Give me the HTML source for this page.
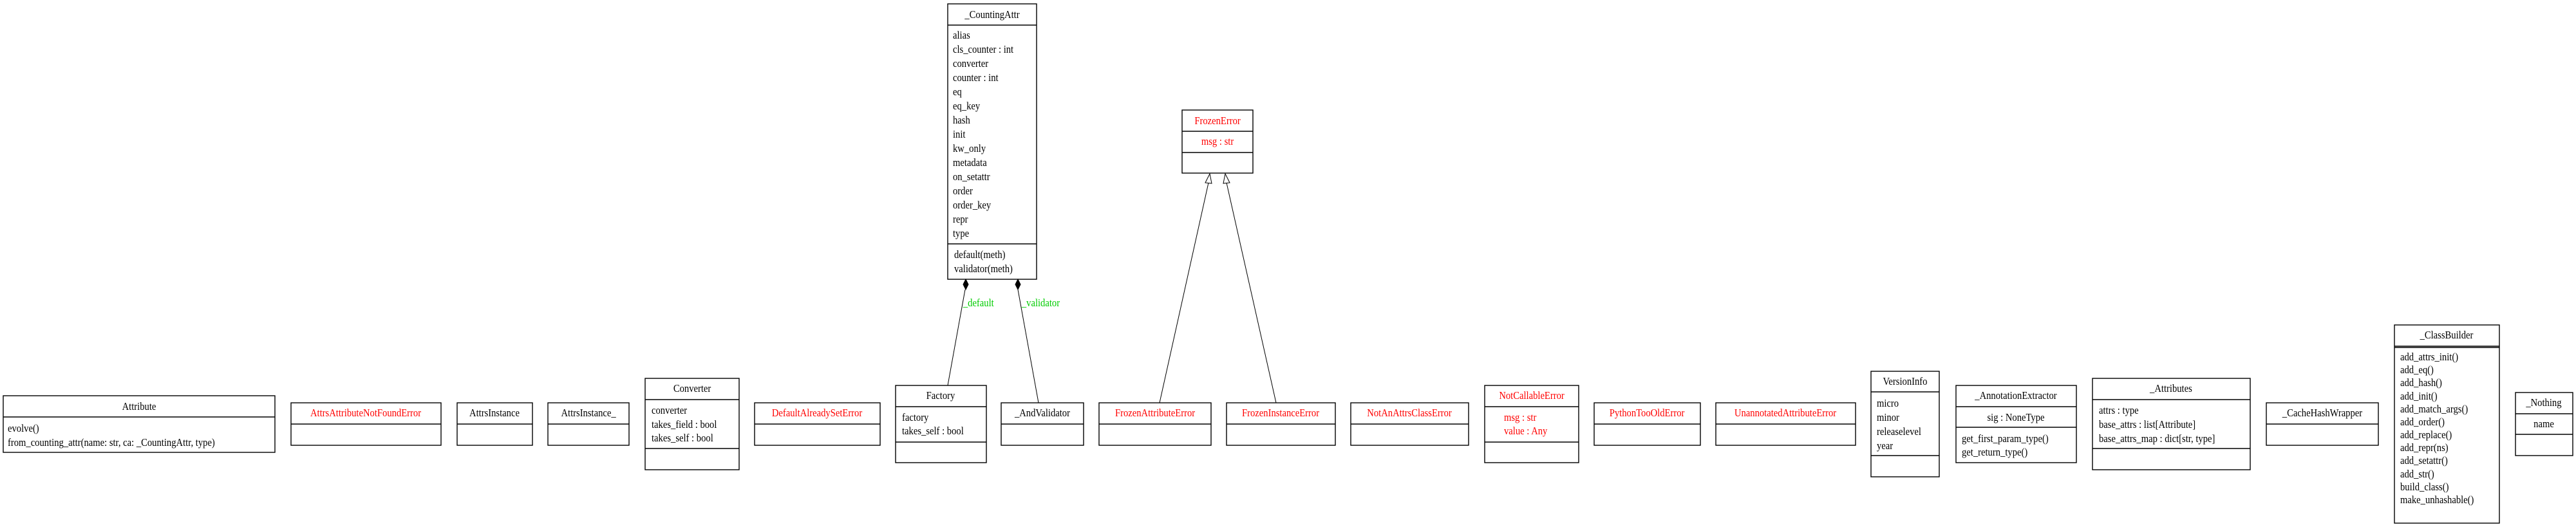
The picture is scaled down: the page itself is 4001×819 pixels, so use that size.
<!DOCTYPE html>
<html><head><meta charset="utf-8"><style>
html,body{margin:0;padding:0;background:#fff;}
svg{display:block;}
text{font-family:"Liberation Serif",serif;font-size:17px;fill:#000;transform-box:fill-box;transform-origin:0 0;transform:scaleX(0.86);}
.r{fill:#f00;}
.g{fill:#0c0;}
.c{text-anchor:middle;transform-origin:50% 0;}
rect{fill:none;stroke:#000;stroke-width:1.4;}
line.d{stroke:#000;stroke-width:1.4;}
line.e{stroke:#000;stroke-width:1;}
</style></head><body>
<svg width="4001" height="819" viewBox="0 0 4001 819" xmlns="http://www.w3.org/2000/svg">
<rect x="5" y="615" width="422" height="88"/><line class="d" x1="5" y1="648" x2="427" y2="648"/>
<text class="c" x="216" y="637">Attribute</text>
<text x="12" y="671">evolve()</text>
<text x="12" y="693">from_counting_attr(name: str, ca: _CountingAttr, type)</text>
<rect x="452" y="626" width="233" height="66"/><line class="d" x1="452" y1="659" x2="685" y2="659"/>
<text class="c r" x="568" y="647">AttrsAttributeNotFoundError</text>
<rect x="710" y="626" width="117" height="66"/><line class="d" x1="710" y1="659" x2="827" y2="659"/>
<text class="c" x="768" y="647">AttrsInstance</text>
<rect x="851" y="626" width="126" height="66"/><line class="d" x1="851" y1="659" x2="977" y2="659"/>
<text class="c" x="914" y="647">AttrsInstance_</text>
<rect x="1002" y="588" width="146" height="142"/><line class="d" x1="1002" y1="621" x2="1148" y2="621"/><line class="d" x1="1002" y1="697" x2="1148" y2="697"/>
<text class="c" x="1075" y="609">Converter</text>
<text x="1012" y="643">converter</text>
<text x="1012" y="665">takes_field : bool</text>
<text x="1012" y="686">takes_self : bool</text>
<rect x="1172" y="626" width="195" height="66"/><line class="d" x1="1172" y1="659" x2="1367" y2="659"/>
<text class="c r" x="1269" y="647">DefaultAlreadySetError</text>
<rect x="1391" y="599" width="141" height="120"/><line class="d" x1="1391" y1="632" x2="1532" y2="632"/><line class="d" x1="1391" y1="687" x2="1532" y2="687"/>
<text class="c" x="1461" y="620">Factory</text>
<text x="1401" y="654">factory</text>
<text x="1401" y="675">takes_self : bool</text>
<rect x="1555" y="626" width="128" height="66"/><line class="d" x1="1555" y1="659" x2="1683" y2="659"/>
<text class="c" x="1619" y="647">_AndValidator</text>
<rect x="1707" y="626" width="174" height="66"/><line class="d" x1="1707" y1="659" x2="1881" y2="659"/>
<text class="c r" x="1794" y="647">FrozenAttributeError</text>
<rect x="1905" y="626" width="169" height="66"/><line class="d" x1="1905" y1="659" x2="2074" y2="659"/>
<text class="c r" x="1989" y="647">FrozenInstanceError</text>
<rect x="2098" y="626" width="183" height="66"/><line class="d" x1="2098" y1="659" x2="2281" y2="659"/>
<text class="c r" x="2189" y="647">NotAnAttrsClassError</text>
<rect x="2306" y="599" width="146" height="120"/><line class="d" x1="2306" y1="632" x2="2452" y2="632"/><line class="d" x1="2306" y1="687" x2="2452" y2="687"/>
<text class="c r" x="2379" y="620">NotCallableError</text>
<text class="r" x="2336" y="654">msg : str</text>
<text class="r" x="2336" y="675">value : Any</text>
<rect x="2476" y="626" width="165" height="66"/><line class="d" x1="2476" y1="659" x2="2641" y2="659"/>
<text class="c r" x="2558" y="647">PythonTooOldError</text>
<rect x="2665" y="626" width="217" height="66"/><line class="d" x1="2665" y1="659" x2="2882" y2="659"/>
<text class="c r" x="2773" y="647">UnannotatedAttributeError</text>
<rect x="2906" y="577" width="106" height="164"/><line class="d" x1="2906" y1="609" x2="3012" y2="609"/><line class="d" x1="2906" y1="708" x2="3012" y2="708"/>
<text class="c" x="2959" y="598">VersionInfo</text>
<text x="2915" y="632">micro</text>
<text x="2915" y="654">minor</text>
<text x="2915" y="676">releaselevel</text>
<text x="2915" y="698">year</text>
<rect x="3038" y="599" width="187" height="120"/><line class="d" x1="3038" y1="632" x2="3225" y2="632"/><line class="d" x1="3038" y1="664" x2="3225" y2="664"/>
<text class="c" x="3131" y="620">_AnnotationExtractor</text>
<text class="c" x="3131" y="654">sig : NoneType</text>
<text x="3047" y="687">get_first_param_type()</text>
<text x="3047" y="708">get_return_type()</text>
<rect x="3250" y="588" width="245" height="142"/><line class="d" x1="3250" y1="621" x2="3495" y2="621"/><line class="d" x1="3250" y1="697" x2="3495" y2="697"/>
<text class="c" x="3372" y="609">_Attributes</text>
<text x="3260" y="643">attrs : type</text>
<text x="3260" y="665">base_attrs : list[Attribute]</text>
<text x="3260" y="687">base_attrs_map : dict[str, type]</text>
<rect x="3520" y="626" width="174" height="66"/><line class="d" x1="3520" y1="659" x2="3694" y2="659"/>
<text class="c" x="3607" y="647">_CacheHashWrapper</text>
<rect x="3719" y="505" width="163" height="308"/><line class="d" x1="3719" y1="538" x2="3882" y2="538"/><line class="d" x1="3719" y1="540" x2="3882" y2="540"/>
<text class="c" x="3800" y="526">_ClassBuilder</text>
<text x="3728" y="560">add_attrs_init()</text>
<text x="3728" y="580">add_eq()</text>
<text x="3728" y="600">add_hash()</text>
<text x="3728" y="621">add_init()</text>
<text x="3728" y="641">add_match_args()</text>
<text x="3728" y="661">add_order()</text>
<text x="3728" y="681">add_replace()</text>
<text x="3728" y="701">add_repr(ns)</text>
<text x="3728" y="721">add_setattr()</text>
<text x="3728" y="742">add_str()</text>
<text x="3728" y="762">build_class()</text>
<text x="3728" y="782">make_unhashable()</text>
<rect x="3907" y="610" width="89" height="98"/><line class="d" x1="3907" y1="643" x2="3996" y2="643"/><line class="d" x1="3907" y1="675" x2="3996" y2="675"/>
<text class="c" x="3951" y="631">_Nothing</text>
<text class="c" x="3951" y="664">name</text>
<rect x="1472" y="6" width="138" height="428"/><line class="d" x1="1472" y1="39" x2="1610" y2="39"/><line class="d" x1="1472" y1="379" x2="1610" y2="379"/>
<text class="c" x="1541" y="28">_CountingAttr</text>
<text x="1480" y="60">alias</text>
<text x="1480" y="82">cls_counter : int</text>
<text x="1480" y="104">converter</text>
<text x="1480" y="126">counter : int</text>
<text x="1480" y="148">eq</text>
<text x="1480" y="170">eq_key</text>
<text x="1480" y="192">hash</text>
<text x="1480" y="214">init</text>
<text x="1480" y="236">kw_only</text>
<text x="1480" y="258">metadata</text>
<text x="1480" y="280">on_setattr</text>
<text x="1480" y="302">order</text>
<text x="1480" y="324">order_key</text>
<text x="1480" y="346">repr</text>
<text x="1480" y="368">type</text>
<text x="1482" y="401">default(meth)</text>
<text x="1482" y="423">validator(meth)</text>
<rect x="1836" y="171" width="110" height="98"/><line class="d" x1="1836" y1="204" x2="1946" y2="204"/><line class="d" x1="1836" y1="237" x2="1946" y2="237"/>
<text class="c r" x="1891" y="193">FrozenError</text>
<text class="c r" x="1891" y="225">msg : str</text>
<line class="e" x1="1472" y1="599" x2="1499" y2="450"/>
<polygon points="1500,434 1504,442 1500,450 1496,442" fill="#000" stroke="#000"/>
<line class="e" x1="1613" y1="626" x2="1581" y2="450"/>
<polygon points="1581,434 1585,442 1581,450 1577,442" fill="#000" stroke="#000"/>
<text class="g" x="1496" y="476">_default</text>
<text class="g" x="1587" y="476">_validator</text>
<line class="e" x1="1801" y1="626" x2="1877" y2="284"/>
<polygon points="1879,270 1882,285 1872,284" fill="#fff" stroke="#000"/>
<line class="e" x1="1982" y1="626" x2="1905" y2="284"/>
<polygon points="1903,270 1910,284 1900,285" fill="#fff" stroke="#000"/>
</svg>
</body></html>
